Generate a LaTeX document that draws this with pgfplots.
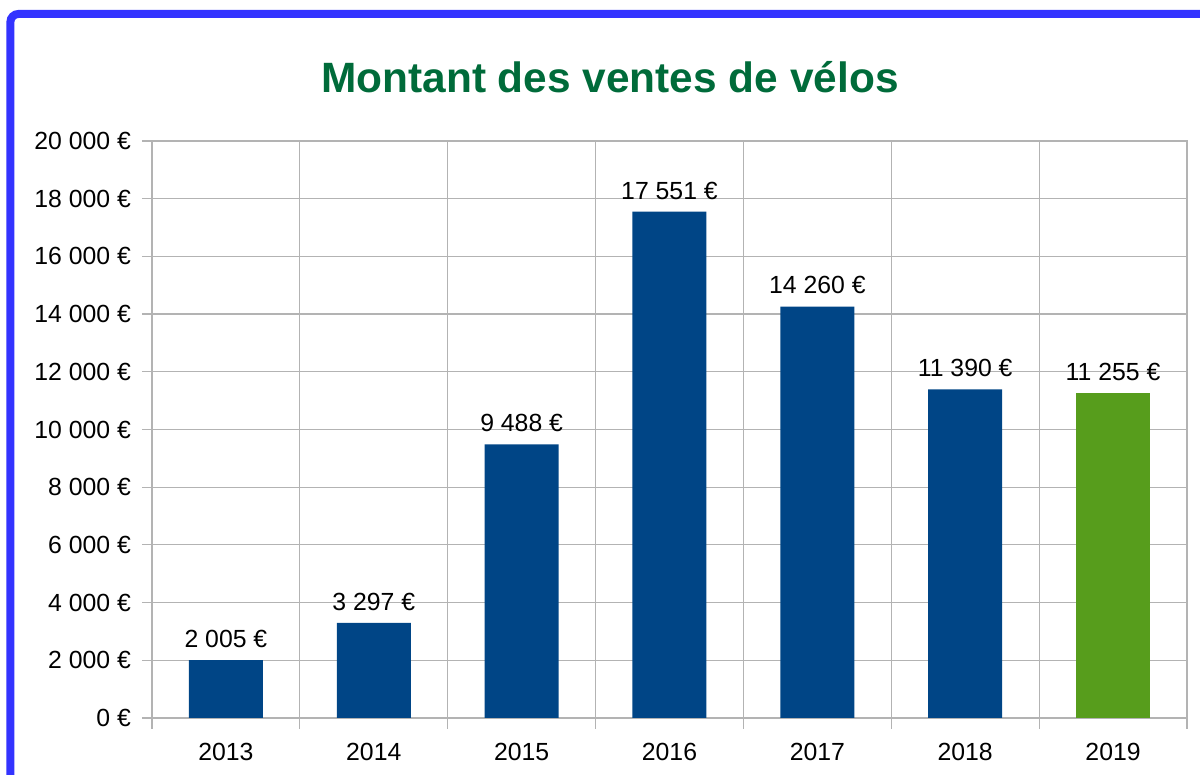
\documentclass[border=0pt]{standalone}
\usepackage{fontspec}
\setmainfont{Liberation Sans}
\usepackage{pgfplots}
\pgfplotsset{compat=1.18}
\definecolor{barblue}{HTML}{004586}
\definecolor{bargreen}{HTML}{579D1C}
\definecolor{titlegreen}{HTML}{006B3A}
\definecolor{gridgray}{HTML}{B3B3B3}
\definecolor{frameblue}{HTML}{3333FF}
\begin{document}
\begin{tikzpicture}
  \useasboundingbox (0,0) rectangle (600pt,387.5pt);
  \begin{scope}
    \clip (0,0) rectangle (600pt,387.5pt);
    \draw[frameblue, line width=4pt, rounded corners=4pt]
      (650pt,380.5pt) -- (5.2pt,380.5pt) -- (5.2pt,-50pt);
  \end{scope}
  \node[titlegreen, font=\fontsize{21.2}{25}\selectfont\bfseries, anchor=base]
    at (305pt,341pt) {Montant des ventes de vélos};
  \begin{axis}[
      at={(76pt,28.5pt)}, anchor=south west,
      scale only axis, width=517.5pt, height=288.5pt,
      ybar, bar shift=0pt, bar width=37pt,
      xmin=-0.5, xmax=6.5, ymin=0, ymax=20000,
      xtick={0,...,6},
      xticklabels={2013,2014,2015,2016,2017,2018,2019},
      minor xtick={-0.5,0.5,...,6.5},
      ytick={0,2000,...,20000},
      yticklabels={0 €,2 000 €,4 000 €,6 000 €,8 000 €,10 000 €,12 000 €,14 000 €,16 000 €,18 000 €,20 000 €},
      scaled y ticks=false,
      xminorgrids=true, ymajorgrids=true, xmajorgrids=false,
      grid style={gridgray, line width=0.6pt},
      minor grid style={gridgray, line width=0.6pt},
      axis line style={gridgray, line width=0.6pt},
      tick style={gridgray, line width=0.6pt},
      major x tick style={draw=none},
      tick align=outside, tick pos=left,
      major tick length=5pt, minor tick length=5.5pt,
      ticklabel style={font=\fontsize{12.4}{14}\selectfont, text=black},
      yticklabel style={xshift=-2pt},
      xticklabel style={yshift=-4pt},
      point meta=explicit symbolic,
      nodes near coords,
      every node near coord/.append style={font=\fontsize{12.4}{14}\selectfont, text=black, anchor=south, inner sep=0pt, yshift=6pt},
    ]
    \addplot[fill=barblue, draw=none] coordinates {
      (0,2005) [2 005 €]
      (1,3297) [3 297 €]
      (2,9488) [9 488 €]
      (3,17551) [17 551 €]
      (4,14260) [14 260 €]
      (5,11390) [11 390 €]
    };
    \addplot[fill=bargreen, draw=none] coordinates {
      (6,11255) [11 255 €]
    };
  \end{axis}
\end{tikzpicture}
\end{document}
